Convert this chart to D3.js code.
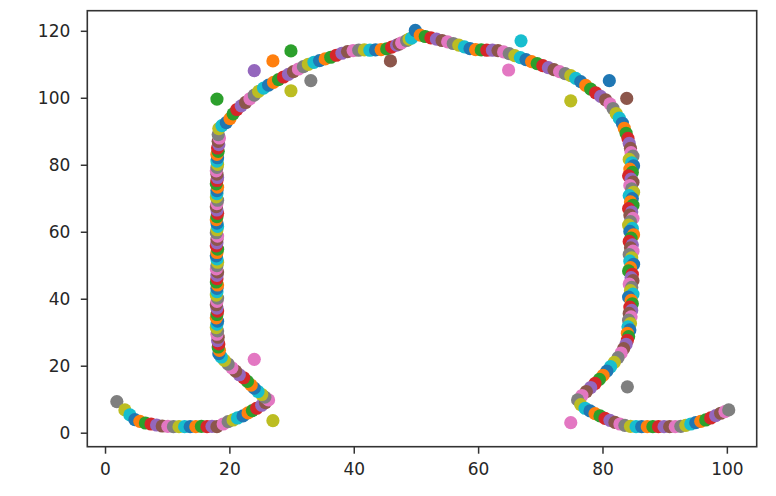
<!DOCTYPE html>
<html>
<head>
<meta charset="utf-8">
<script src="https://cdn.jsdelivr.net/npm/d3@7"></script>
<style>
  html, body { margin: 0; padding: 0; background: #fff; }
  svg { display: block; }
  .tick text { font-family: "DejaVu Sans", sans-serif; font-size: 17px; fill: #262626; }
</style>
</head>
<body>
<svg id="chart" width="776" height="496"></svg>
<script>
// ---- data, points in drawing order ----
const leftHook = [
  [1.9,9.3],[3.2,6.8],[4.0,5.3],[4.8,3.9],[5.6,3.4],[6.5,2.9],[7.4,2.6],[8.3,2.3],[9.2,2.0],[10.1,1.9],
  [11.0,1.8],[11.9,1.8],[12.8,1.8],[13.7,1.8],[14.6,1.8],[15.5,1.9],[16.4,1.8],[17.2,1.9],[18.0,1.8],[19.0,2.6],
  [19.8,3.3],[20.6,3.8],[21.3,4.4],[22.2,5.0],[23.0,5.9],[23.7,6.6],[24.4,7.3],[25.2,8.2],[25.8,9.0],[26.3,9.8],
  [25.7,10.6],[25.2,11.4],[24.6,12.3],[24.0,13.3],[23.5,14.2],[22.9,15.3],[22.3,16.4],[21.6,17.3],[21.0,18.4],[20.4,19.4],
  [19.8,20.5],[19.2,21.6],[18.7,22.6],[18.3,23.6]
];
const leftBar = [
  [18.4,24.6],[18.2,25.6],[18.3,26.5],[18.1,27.5],[18.2,28.5],[18.0,29.4],[18.1,30.4],[17.9,31.4],[18.0,32.4],[18.1,33.3],
  [17.9,34.3],[18.0,35.3],[18.1,36.3],[18.0,37.2],[17.9,38.2],[18.0,39.2],[18.1,40.2],[17.9,41.1],[18.0,42.1],[18.0,43.1],
  [18.1,44.1],[17.9,45.0],[18.0,46.0],[18.0,47.0],[18.1,48.0],[17.9,48.9],[18.0,49.9],[18.1,50.9],[18.0,51.9],[17.9,52.8],
  [18.0,53.8],[18.1,54.8],[17.9,55.8],[18.0,56.7],[18.0,57.7],[18.1,58.7],[17.9,59.7],[18.0,60.6],[18.1,61.6],[18.0,62.6],
  [17.9,63.6],[18.0,64.5],[18.1,65.5],[18.0,66.5],[17.9,67.5],[18.0,68.4],[18.1,69.4],[17.9,70.4],[18.0,71.4],[18.0,72.3],
  [18.1,73.3],[17.9,74.3],[18.0,75.3],[18.1,76.2],[18.0,77.2],[17.9,78.2],[18.0,79.2],[18.1,80.1],[18.0,81.1],[18.1,82.1],
  [18.0,83.1],[18.2,84.0],[18.1,85.0],[18.3,86.0],[18.2,87.0],[18.4,88.0],[18.2,89.0]
];
const topArc = [
  [18.3,90.8],[18.8,91.7],[19.5,92.6],[20.1,93.8],[20.6,95.2],[21.2,96.5],[21.9,97.6],[22.6,98.6],[23.3,99.7],[24.0,100.8],
  [24.7,101.9],[25.5,102.9],[26.3,103.8],[27.1,104.6],[27.9,105.4],[28.7,106.2],[29.5,107.0],[30.3,107.8],[31.1,108.6],[31.9,109.3],
  [32.7,110.0],[33.6,110.6],[34.5,111.1],[35.4,111.6],[36.3,112.1],[37.2,112.7],[38.1,113.3],[39.0,113.8],[39.9,114.1],[40.8,114.2],
  [41.7,114.3],[42.6,114.2],[43.5,114.3],[44.4,114.4],[45.3,114.6],[46.1,115.1],[46.9,115.7],[47.3,116.0],[47.7,116.4],[48.5,117.1],
  [48.9,117.5],[49.3,117.8],
  [49.9,120.1],[50.7,118.7],[51.5,118.3],[52.4,117.9],[53.3,117.5],[54.2,117.1],[55.1,116.7],[56.0,116.2],[56.9,115.7],[57.8,115.2],
  [58.7,114.7],[59.6,114.4],[60.5,114.3],[61.4,114.2],[62.3,114.2],[63.2,114.1],[64.1,113.7],[65.0,113.2],[65.9,112.6],[66.8,112.0],
  [67.7,111.4],[68.6,110.8],[69.5,110.2],[70.4,109.6],[71.3,109.0],[72.2,108.4],[73.1,107.8],[74.0,107.2],[74.9,106.6],[75.7,105.8],
  [76.5,104.8],[77.3,103.7],[78.1,102.6],[78.9,101.5],[79.7,100.4],[80.5,99.4],[81.2,98.2],[81.7,96.8],[82.2,95.3],[82.7,93.9],
  [83.2,92.4],[83.5,90.9],[83.8,89.4],[84.1,87.9],[84.3,86.4],[84.5,84.9]
];
const rightBar = [
  [84.6,83.6],[84.9,82.6],[84.3,81.6],[84.7,80.6],[85.0,79.7],[84.4,78.7],[84.8,77.7],[84.2,76.7],[84.6,75.7],[84.9,74.8],
  [84.4,73.8],[84.7,72.8],[85.0,71.8],[84.3,70.8],[84.8,69.9],[84.5,68.9],[84.9,67.9],[84.2,66.9],[84.7,65.9],[84.4,65.0],
  [84.9,64.0],[84.5,63.0],[84.2,62.0],[84.8,61.0],[84.4,60.1],[85.0,59.1],[84.6,58.1],[84.3,57.1],[84.8,56.1],[84.5,55.2],
  [84.9,54.2],[84.3,53.2],[84.7,52.2],[84.4,51.2],[85.0,50.3],[84.5,49.3],[84.2,48.3],[84.8,47.3],[84.6,46.3],[84.9,45.4],
  [84.3,44.4],[84.7,43.4],[84.5,42.4],[84.9,41.4],[84.2,40.5],[84.6,39.5],[84.8,38.5],[84.4,37.5],[84.7,36.5],[84.3,35.6],
  [84.6,34.6],[84.2,33.6],[84.5,32.6],[84.1,31.6],[84.4,30.7],[84.0,29.7],[84.2,28.7]
];
const rightHook = [
  [84.0,27.6],[83.8,26.4],[83.4,25.1],[83.0,23.8],[82.5,22.4],[81.9,21.0],[81.3,19.7],[80.7,18.4],[80.1,17.1],[79.5,15.9],
  [78.8,14.7],[78.1,13.5],[77.4,12.3],[76.7,11.1],[76.0,9.8],[76.5,8.4],[77.2,7.3],[78.0,6.5],[78.8,5.7],[79.6,5.0],
  [80.4,4.3],[81.2,3.7],[82.0,3.1],[82.8,2.6],[83.6,2.2],[84.5,1.9],[85.4,1.8],[86.3,1.8],[87.2,1.8],[88.1,1.8],
  [89.0,1.8],[89.9,1.8],[90.8,1.8],[91.7,1.8],[92.6,1.9],[93.4,2.2],[94.2,2.6],[95.0,3.0],[95.8,3.4],[96.6,3.8],
  [97.4,4.4],[98.2,5.1],[99.0,5.8],[99.7,6.3],[100.3,6.8]
];
// stray points: [x, y, series number]
const strays = [
  [18.0,99.6,2],[24.0,108.1,4],[27.0,111.0,1],[29.9,114.0,2],[29.9,102.1,8],[33.1,105.1,7],
  [45.9,111.0,5],[66.9,117.0,9],[64.9,108.3,6],[74.9,99.1,8],[81.1,105.1,0],[83.9,99.8,5],
  [84.0,13.7,7],[74.9,3.0,6],[24.0,21.9,6],[27.0,3.6,8]
];
const firstSeries = 7;   // the trace starts on the 8th colour of the cycle
const xTicks = [0, 20, 40, 60, 80, 100];
const yTicks = [0, 20, 40, 60, 80, 100, 120];
const xLimits = [-2.85, 104.8];
const yLimits = [-4.18, 126.0];

// ---- layout ----
const plot = { left: 87.3, right: 756.7, top: 10.7, bottom: 446.7 };
const svg = d3.select("#chart");
const x = d3.scaleLinear().domain(xLimits).range([plot.left, plot.right]);
const y = d3.scaleLinear().domain(yLimits).range([plot.bottom, plot.top]);
const colors = d3.schemeCategory10;
const R = 6.6;

const path = [].concat(leftHook, leftBar, topArc, rightBar, rightHook);

const dots = svg.append("g");
dots.selectAll("circle.p")
  .data(path)
  .join("circle")
  .attr("class", "p")
  .attr("cx", d => x(d[0]))
  .attr("cy", d => y(d[1]))
  .attr("r", R)
  .attr("fill", (d, i) => colors[(i + firstSeries) % 10]);

dots.selectAll("circle.s")
  .data(strays)
  .join("circle")
  .attr("class", "s")
  .attr("cx", d => x(d[0]))
  .attr("cy", d => y(d[1]))
  .attr("r", R)
  .attr("fill", d => colors[d[2] % 10]);

// axes
const xAxis = d3.axisBottom(x).tickValues(xTicks).tickSize(7).tickPadding(9).tickFormat(d3.format("d"));
const yAxis = d3.axisLeft(y).tickValues(yTicks).tickSize(6.5).tickPadding(10.5).tickFormat(d3.format("d"));

const gx = svg.append("g").attr("transform", `translate(0,${plot.bottom})`).call(xAxis);
const gy = svg.append("g").attr("transform", `translate(${plot.left},0)`).call(yAxis);
[gx, gy].forEach(g => {
  g.select(".domain").remove();
  g.selectAll(".tick line").attr("stroke", "#333").attr("stroke-width", 1.5);
});

// frame
svg.append("rect")
  .attr("x", plot.left).attr("y", plot.top)
  .attr("width", plot.right - plot.left).attr("height", plot.bottom - plot.top)
  .attr("fill", "none").attr("stroke", "#333").attr("stroke-width", 1.6);
</script>
</body>
</html>
